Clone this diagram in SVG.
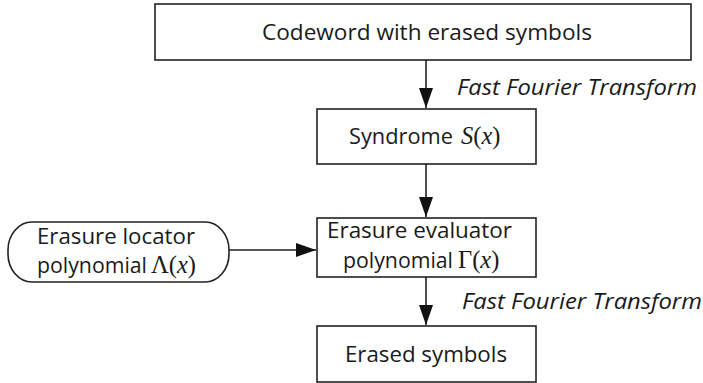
<svg xmlns="http://www.w3.org/2000/svg" width="703" height="383" viewBox="0 0 703 383">
<style>
.box{fill:#fff;stroke:#222;stroke-width:1.6}
.t{font-family:"Open Sans","Liberation Sans",sans-serif;font-size:21.5px;fill:#1a1a1a}
.it{font-family:"Open Sans","Liberation Sans",sans-serif;font-size:21px;font-style:italic;fill:#1a1a1a}
.m{font-family:"Liberation Serif","Times New Roman",serif;font-size:24.5px;fill:#1a1a1a}
.e{stroke:#222;stroke-width:1.6;fill:none;marker-end:url(#ah)}
</style>
<defs>
<marker id="ah" markerWidth="20" markerHeight="14" refX="20" refY="7" orient="auto" markerUnits="userSpaceOnUse">
<path d="M0,0 L20,7 L0,14 Z" fill="#111"/>
</marker>
</defs>
<g id="connectors">
<path class="e" d="M426,60 V108"/>
<path class="e" d="M426,164 V217"/>
<path class="e" d="M229,250 H316"/>
<path class="e" d="M426,277 V325"/>
</g>
<g id="codeword">
<rect class="box" x="155" y="4" width="536" height="56"/>
<text class="t" x="262" y="40" textLength="330" lengthAdjust="spacingAndGlyphs">Codeword with erased symbols</text>
</g>
<text class="it" x="457" y="95" textLength="240" lengthAdjust="spacingAndGlyphs">Fast Fourier Transform</text>
<g id="syndrome">
<rect class="box" x="317" y="109" width="219" height="55"/>
<text class="t" x="349" y="144" textLength="104" lengthAdjust="spacingAndGlyphs">Syndrome</text>
<text class="m" x="461" y="144"><tspan font-style="italic">S</tspan>(<tspan font-style="italic">x</tspan>)</text>
</g>
<g id="locator">
<rect class="box" x="8" y="222" width="221" height="60" rx="24" ry="28"/>
<text class="t" x="37" y="244" textLength="158" lengthAdjust="spacingAndGlyphs">Erasure locator</text>
<text class="t" x="37" y="273" textLength="110" lengthAdjust="spacingAndGlyphs">polynomial</text>
<text class="m" x="151" y="273">Λ(<tspan font-style="italic">x</tspan>)</text>
</g>
<g id="evaluator">
<rect class="box" x="317" y="218" width="219" height="59"/>
<text class="t" x="327" y="238" textLength="185" lengthAdjust="spacingAndGlyphs">Erasure evaluator</text>
<text class="t" x="343" y="268" textLength="110" lengthAdjust="spacingAndGlyphs">polynomial</text>
<text class="m" x="458" y="268">Γ(<tspan font-style="italic">x</tspan>)</text>
</g>
<text class="it" x="462" y="309" textLength="240" lengthAdjust="spacingAndGlyphs">Fast Fourier Transform</text>
<g id="erased">
<rect class="box" x="317" y="326" width="219" height="56"/>
<text class="t" x="345" y="362" textLength="162" lengthAdjust="spacingAndGlyphs">Erased symbols</text>
</g>
</svg>
